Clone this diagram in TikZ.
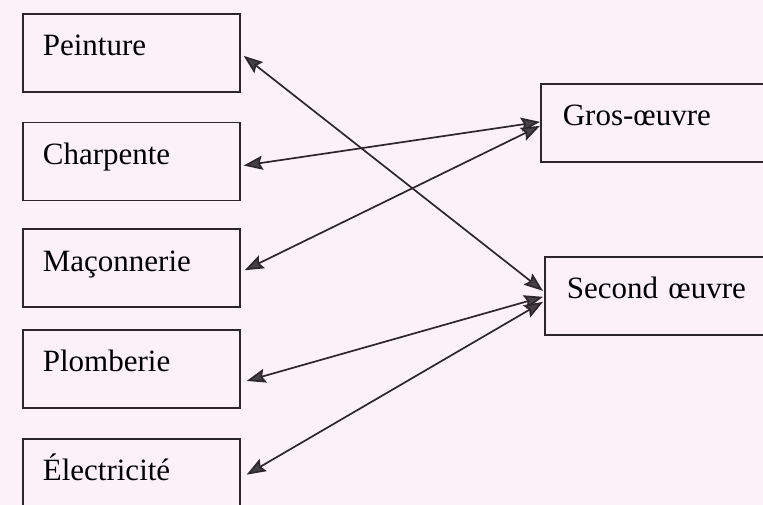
\documentclass[tikz,border=0pt]{standalone}
\usepackage{fontspec}
\setmainfont{Liberation Serif}
\newfontfamily\tradefont{Liberation Serif}
\usetikzlibrary{arrows.meta,positioning}
\definecolor{bg}{RGB}{252,241,247}
\definecolor{ink}{RGB}{45,38,42}
\definecolor{tip}{RGB}{70,65,70}

\begin{document}
\begin{tikzpicture}[x=1pt,y=-1pt,
	every node/.style={font=\tradefont\fontsize{31}{36}\selectfont},
	trade/.style={draw=ink,line width=1.7pt,rectangle,align=left,inner xsep=20pt,inner ysep=20pt,
		text width=177pt,text height=22pt,text depth=16pt},
	group/.style={trade,inner xsep=22pt,text width=230pt},
	link/.style={{Stealth[length=19pt,width=14pt,inset=3pt,fill=tip]}-{Stealth[length=19pt,width=14pt,inset=3pt,fill=tip]},
		draw=ink,line width=1.7pt}]
	\useasboundingbox (0,0) rectangle (763,505);
	\fill[bg] (0,0) rectangle (763,505);
	\clip (0,0) rectangle (763,505);

	\node[trade,anchor=north west] (pein) at (22,13) {Peinture};
	\node[trade] (charp) [below=29pt of pein] {Charpente};
	\node[trade] (mac) [below=27pt of charp] {Maçonnerie};
	\node[trade] (plomb) [below=21pt of mac] {Plomberie};
	\node[trade] (elec) [below=29pt of plomb] {Électricité};

	\node[group,anchor=north west] (gros) at (540,83) {Gros-œuvre};
	\node[group,anchor=north west] (sec) at (544,256) {Second œuvre};

	\draw[link] ([xshift=3pt,yshift=-3pt]pein.east) -- ([xshift=-1pt,yshift=5pt]sec.west);
	\draw[link] ([xshift=3pt,yshift=-4pt]charp.east) -- ([yshift=1pt]gros.west);
	\draw[link] ([xshift=4pt,yshift=-2pt]mac.east) -- ([yshift=-3pt]gros.west);
	\draw[link] ([xshift=6pt,yshift=-12pt]plomb.east) -- ([xshift=-1pt,yshift=-1pt]sec.west);
	\draw[link] ([xshift=6pt,yshift=3pt]elec.east) -- ([xshift=-1pt,yshift=-6pt]sec.west);
\end{tikzpicture}
\end{document}
